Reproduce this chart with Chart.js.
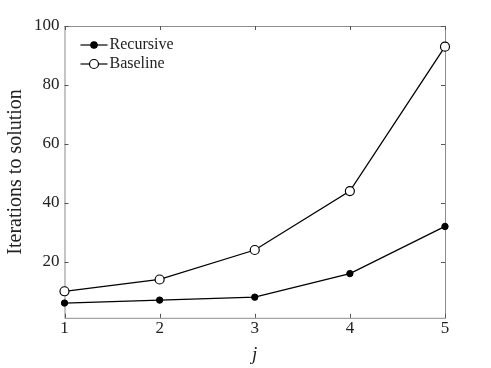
<!DOCTYPE html>
<html>
<head>
    <title>Iterations to solution</title>
    <style>
        body {
            margin: 0;
            padding: 0;
            background-color: #fff;
        }

        #chart-container {
            width: 491px;
            height: 368px;
        }
    </style>
</head>
<body>
    <div id="chart-container">
        <canvas id="iter-chart"></canvas>
    </div>

    <script src="https://cdn.jsdelivr.net/npm/chart.js"></script>
    <script>
        // values
        const jValues = [1, 2, 3, 4, 5];
        const recursive = [6, 7, 8, 16, 32];
        const baseline = [10, 14, 24, 44, 93];
        const xTicks = [1, 2, 3, 4, 5];
        const yTicks = [20, 40, 60, 80, 100];

        const FONT = '"Liberation Serif", "DejaVu Serif", serif';

        // box around the plot with inward tick marks on all four sides
        const boxPlugin = {
            id: 'box',
            beforeDatasetsDraw(chart) {
                const { ctx, chartArea: a, scales } = chart;
                ctx.save();
                ctx.strokeStyle = '#8c8c8c';
                ctx.lineWidth = 1;
                ctx.strokeRect(a.left + 0.5, a.top + 0.5, a.right - a.left, a.bottom - a.top);
                ctx.strokeStyle = '#555';
                const len = 4;
                ctx.beginPath();
                scales.x.ticks.forEach(t => {
                    const px = Math.round(scales.x.getPixelForValue(t.value)) + 0.5;
                    ctx.moveTo(px, a.bottom); ctx.lineTo(px, a.bottom - len);
                    ctx.moveTo(px, a.top); ctx.lineTo(px, a.top + len);
                });
                scales.y.ticks.forEach(t => {
                    const py = Math.round(scales.y.getPixelForValue(t.value)) + 0.5;
                    ctx.moveTo(a.left, py); ctx.lineTo(a.left + len, py);
                    ctx.moveTo(a.right, py); ctx.lineTo(a.right - len, py);
                });
                ctx.stroke();
                ctx.restore();
            }
        };

        // legend with line + marker, inside the top-left corner
        const legendPlugin = {
            id: 'innerLegend',
            afterDatasetsDraw(chart) {
                const { ctx, chartArea: a } = chart;
                ctx.save();
                ctx.font = '16px ' + FONT;
                ctx.textBaseline = 'middle';
                chart.data.datasets.forEach((ds, i) => {
                    const y = a.top + 19 + i * 19;
                    const x0 = a.left + 16;
                    ctx.strokeStyle = '#000';
                    ctx.lineWidth = 1.2;
                    ctx.beginPath();
                    ctx.moveTo(x0, y); ctx.lineTo(x0 + 27, y);
                    ctx.stroke();
                    ctx.beginPath();
                    ctx.arc(x0 + 13.5, y, ds.pointRadius, 0, Math.PI * 2);
                    ctx.fillStyle = ds.pointBackgroundColor;
                    ctx.fill();
                    ctx.stroke();
                    ctx.fillStyle = '#222';
                    ctx.fillText(ds.label, x0 + 29, y);
                });
                ctx.restore();
            }
        };

        const ctx = document.getElementById('iter-chart').getContext('2d');
        new Chart(ctx, {
            type: 'line',
            data: {
                datasets: [{
                    label: 'Recursive',
                    data: jValues.map((j, i) => ({ x: j, y: recursive[i] })),
                    borderColor: '#000',
                    borderWidth: 1.3,
                    pointRadius: 3.2,
                    pointBackgroundColor: '#000',
                    pointBorderColor: '#000',
                    pointBorderWidth: 1,
                    clip: false
                }, {
                    label: 'Baseline',
                    data: jValues.map((j, i) => ({ x: j, y: baseline[i] })),
                    borderColor: '#000',
                    borderWidth: 1.3,
                    pointRadius: 4.5,
                    pointBackgroundColor: '#fff',
                    pointBorderColor: '#000',
                    pointBorderWidth: 1.2,
                    clip: false
                }]
            },
            options: {
                responsive: true,
                maintainAspectRatio: false,
                animation: false,
                layout: {
                    padding: { top: 26, right: 46, left: 4, bottom: 2 }
                },
                plugins: {
                    legend: { display: false },
                    tooltip: { enabled: false }
                },
                scales: {
                    x: {
                        type: 'linear',
                        min: 1,
                        max: 5,
                        afterBuildTicks: s => { s.ticks = xTicks.map(v => ({ value: v })); },
                        grid: { display: false, drawTicks: false },
                        border: { display: false },
                        ticks: {
                            color: '#222',
                            padding: 1,
                            font: { family: FONT, size: 17 }
                        },
                        title: {
                            display: true,
                            text: 'j',
                            color: '#222',
                            padding: { top: 3, bottom: 0 },
                            font: { family: FONT, size: 19, style: 'italic' }
                        }
                    },
                    y: {
                        type: 'linear',
                        min: 1,
                        max: 100,
                        afterBuildTicks: s => { s.ticks = yTicks.map(v => ({ value: v })); },
                        grid: { display: false, drawTicks: false },
                        border: { display: false },
                        ticks: {
                            color: '#222',
                            padding: 5,
                            font: { family: FONT, size: 17 }
                        },
                        title: {
                            display: true,
                            text: 'Iterations to solution',
                            color: '#222',
                            padding: { top: 0, bottom: 1 },
                            font: { family: FONT, size: 20 }
                        }
                    }
                }
            },
            plugins: [boxPlugin, legendPlugin]
        });
    </script>
</body>
</html>
